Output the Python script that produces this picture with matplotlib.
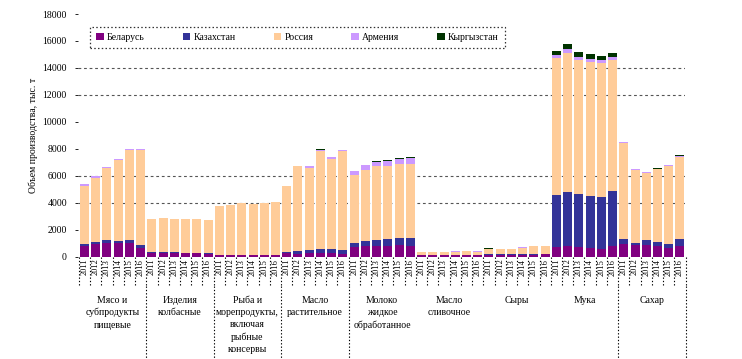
import matplotlib
matplotlib.use("Agg")
import matplotlib.pyplot as plt
import matplotlib.transforms as mtransforms
from matplotlib.patches import Patch
import numpy as np

plt.rcParams['font.family'] = ['Liberation Serif', 'DejaVu Serif']

years = ["2011", "2012", "2013", "2014", "2015", "2016"]
groups = ["Мясо и\nсубпродукты\nпищевые", "Изделия\nколбасные",
          "Рыба и\nморепродукты,\nвключая\nрыбные\nконсервы",
          "Масло\nрастительное", "Молоко\nжидкое\nобработанное",
          "Масло\nсливочное", "Сыры", "Мука", "Сахар"]
countries = ["Беларусь", "Казахстан", "Россия", "Армения", "Кыргызстан"]
colors = ["#800080", "#333399", "#FFCC99", "#CC99FF", "#003300"]

belarus = [820, 930, 1050, 1000, 1025, 675,
           280, 300, 280, 250, 250, 200,
           120, 110, 120, 110, 100, 100,
           250, 225, 250, 250, 275, 200,
           700, 800, 800, 800, 900, 800,
           110, 110, 110, 115, 115, 115,
           150, 150, 150, 160, 160, 170,
           750, 800, 700, 625, 600, 800,
           950, 850, 850, 825, 625, 825]
kazakhstan = [150, 170, 225, 200, 250, 225,
              60, 50, 50, 60, 60, 50,
              30, 30, 30, 30, 30, 30,
              130, 225, 275, 350, 325, 300,
              300, 380, 450, 500, 480, 580,
              20, 20, 20, 20, 20, 20,
              20, 20, 20, 20, 20, 20,
              3825, 3975, 3980, 3900, 3800, 4050,
              350, 175, 375, 300, 350, 500]
russia = [4305, 4770, 5285, 5990, 6605, 7020,
          2490, 2550, 2500, 2520, 2490, 2480,
          3580, 3660, 3800, 3740, 3870, 3950,
          4850, 6270, 6025, 7270, 6680, 7340,
          5050, 5275, 5450, 5450, 5500, 5495,
          200, 210, 210, 250, 255, 250,
          410, 400, 410, 490, 600, 590,
          10125, 10350, 9920, 9950, 9975, 9775,
          7100, 5380, 4980, 5345, 5750, 6105]
armenia = [100, 80, 120, 60, 120, 80,
           0, 0, 0, 0, 0, 0,
           0, 0, 0, 0, 0, 0,
           0, 30, 150, 30, 100, 60,
           300, 375, 325, 375, 375, 450,
           5, 5, 5, 5, 5, 5,
           0, 30, 0, 30, 20, 40,
           250, 250, 200, 200, 200, 175,
           75, 75, 75, 40, 75, 60]
kyrgyzstan = [0, 0, 0, 0, 0, 0,
              0, 0, 0, 0, 0, 0,
              0, 0, 0, 0, 0, 0,
              0, 0, 0, 80, 0, 0,
              0, 0, 75, 75, 75, 75,
              0, 0, 0, 0, 0, 0,
              30, 0, 0, 0, 0, 0,
              330, 425, 375, 375, 325, 300,
              40, 0, 0, 40, 0, 40]

series = [belarus, kazakhstan, russia, armenia, kyrgyzstan]
yticks = list(range(0, 18001, 2000))

fig = plt.figure(figsize=(7.42, 3.59), dpi=100)
ax = fig.add_axes([78 / 742, 1 - 256.7 / 359, 607 / 742, 242.7 / 359])

n = len(belarus)
x = np.arange(n)
bottom = np.zeros(n)
for vals, col in zip(series, colors):
    v = np.array(vals, dtype=float)
    ax.bar(x, v, width=0.8, bottom=bottom, color=col, zorder=3, linewidth=0)
    bottom += v

ax.set_xlim(-0.58, n - 0.55)
ax.set_ylim(0, 18000)
ax.set_yticks(yticks)
ax.set_yticklabels([str(t) for t in yticks], fontsize=7)
ax.tick_params(axis='y', length=2, width=0.6, pad=6)
ax.set_xticks([])
for s in ax.spines.values():
    s.set_visible(False)
for g in [4000, 6000, 12000, 14000]:
    ax.axhline(g, color="#555555", lw=0.8, ls=(0, (2.5, 2.5)), zorder=1)

ax.set_ylabel("Объем производства, тыс. т", fontsize=7, labelpad=3)

trans = mtransforms.blended_transform_factory(ax.transData, ax.transAxes)
# year labels
for i in range(n):
    ax.text(x[i], -0.008, years[i % 6], rotation=90, ha='center', va='top',
            fontsize=6, transform=trans)
# short separators between bars
for i in range(n + 1):
    ax.plot([i - 0.5, i - 0.5], [0, -0.12], transform=trans, clip_on=False,
            color='black', lw=0.8, ls=(0, (1.2, 1.8)))
# long separators between groups
for gi in [1, 2, 3, 4, 8, 9]:
    xs = gi * 6 - 0.5
    ax.plot([xs, xs], [-0.12, -0.42], transform=trans, clip_on=False,
            color='black', lw=0.8, ls=(0, (1.2, 1.8)))
# group labels
for gi, name in enumerate(groups):
    ax.text(gi * 6 + 2.5, -0.16, name, ha='center', va='top', fontsize=7,
            linespacing=1.45, transform=trans)

handles = [Patch(facecolor=c, label=l) for c, l in zip(colors, countries)]
leg = ax.legend(handles=handles, ncol=5, loc='lower left',
                bbox_to_anchor=(0.02, 0.86, 0.683, 0.09), mode='expand',
                fontsize=7, frameon=True, fancybox=False, borderaxespad=0,
                handlelength=0.8, handleheight=0.8, handletextpad=0.3,
                borderpad=0.6)
fr = leg.get_frame()
fr.set_edgecolor('black')
fr.set_linestyle((0, (1.2, 1.8)))
fr.set_linewidth(0.9)

fig.savefig("out.png", dpi=100)
